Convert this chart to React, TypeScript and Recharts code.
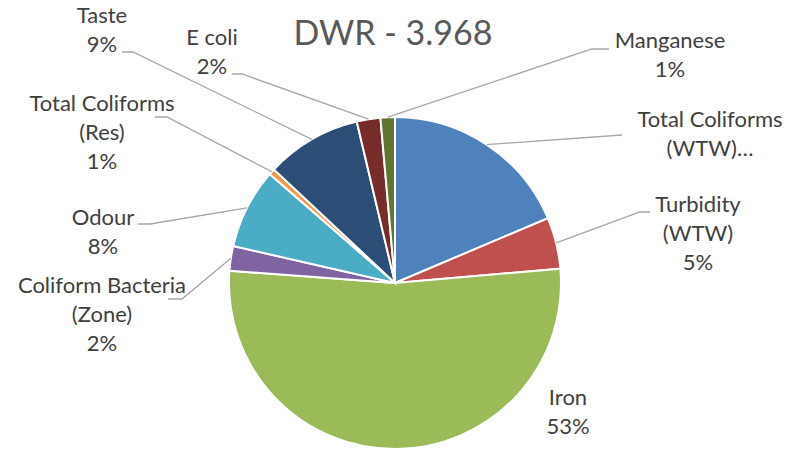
import React from "react";
import { PieChart, Pie, Cell } from "recharts";

const categories = [
  "Total Coliforms (WTW)",
  "Turbidity (WTW)",
  "Iron",
  "Coliform Bacteria (Zone)",
  "Odour",
  "Total Coliforms (Res)",
  "Taste",
  "E coli",
  "Manganese",
];
const values = [18.6, 5.0, 52.5, 2.4, 7.8, 0.6, 9.3, 2.3, 1.4];
const colors = [
  "#4F81BD",
  "#C0504D",
  "#9BBB59",
  "#8064A2",
  "#4BACC6",
  "#F79646",
  "#2C4D75",
  "#772C2A",
  "#5F7530",
];
const title = "DWR - 3.968";

// label text lines (name lines; percent appended unless truncated)
const labelLines: Record<string, { lines: string[]; pct: boolean }> = {
  "Total Coliforms (WTW)": { lines: ["Total Coliforms", "(WTW)…"], pct: false },
  "Turbidity (WTW)": { lines: ["Turbidity", "(WTW)"], pct: true },
  Iron: { lines: ["Iron"], pct: true },
  "Coliform Bacteria (Zone)": { lines: ["Coliform Bacteria", "(Zone)"], pct: true },
  Odour: { lines: ["Odour"], pct: true },
  "Total Coliforms (Res)": { lines: ["Total Coliforms", "(Res)"], pct: true },
  Taste: { lines: ["Taste"], pct: true },
  "E coli": { lines: ["E coli"], pct: true },
  Manganese: { lines: ["Manganese"], pct: true },
};

// label layout: text center x, first baseline y, leader elbow and end
const labelLayout: Record<string, { x: number; y: number; elbow?: [number, number]; end?: [number, number] }> = {
  "Total Coliforms (WTW)": { x: 710, y: 127, elbow: [622, 135], end: [622, 135] },
  "Turbidity (WTW)": { x: 698, y: 212, elbow: [640, 212], end: [650, 212] },
  Iron: { x: 568, y: 405 },
  "Coliform Bacteria (Zone)": { x: 102, y: 293, elbow: [182, 299], end: [168, 299] },
  Odour: { x: 103, y: 225, elbow: [150, 224], end: [138, 224] },
  "Total Coliforms (Res)": { x: 102, y: 111, elbow: [167, 117], end: [155, 117] },
  Taste: { x: 102, y: 23, elbow: [133, 52], end: [122, 52] },
  "E coli": { x: 212, y: 45, elbow: [242, 74], end: [232, 74] },
  Manganese: { x: 670, y: 48, elbow: [592, 49], end: [609, 49] },
};

const data = categories.map((name, i) => ({ name, value: values[i] }));

const FONT = "Lato, 'Open Sans', sans-serif";
const RAD = Math.PI / 180;

const renderLabel = (props: any) => {
  const { cx, cy, midAngle, outerRadius, name, percent } = props;
  const layout = labelLayout[name];
  const txt = labelLines[name];
  if (!layout || !txt) return null;
  const lines = txt.pct ? [...txt.lines, `${Math.round(percent * 100)}%`] : txt.lines;
  const sx = cx + outerRadius * Math.cos(-midAngle * RAD);
  const sy = cy + outerRadius * Math.sin(-midAngle * RAD);
  return (
    <g>
      {layout.elbow && layout.end && (
        <polyline
          points={`${sx},${sy} ${layout.elbow[0]},${layout.elbow[1]} ${layout.end[0]},${layout.end[1]}`}
          fill="none"
          stroke="#A6A6A6"
          strokeWidth={1.3}
        />
      )}
      <text x={layout.x} y={layout.y} textAnchor="middle" fill="#404040" fontFamily={FONT} fontSize={22}>
        {lines.map((l, i) => (
          <tspan key={i} x={layout.x} y={layout.y + i * 29}>
            {l}
          </tspan>
        ))}
      </text>
    </g>
  );
};

export default function App() {
  return (
    <div style={{ position: "absolute", left: 0, top: 0, width: 800, height: 450, background: "#fff" }}>
      <PieChart width={800} height={450} margin={{ top: 0, right: 0, bottom: 0, left: 0 }}>
        <text x={393} y={45} textAnchor="middle" fill="#595959" fontFamily={FONT} fontSize={34}>
          {title}
        </text>
        <Pie
          data={data}
          dataKey="value"
          nameKey="name"
          cx={395}
          cy={283}
          outerRadius={166}
          startAngle={90}
          endAngle={-270}
          stroke="#FFFFFF"
          strokeWidth={2}
          label={renderLabel}
          labelLine={false}
          isAnimationActive={false}
        >
          {data.map((d, i) => (
            <Cell key={d.name} fill={colors[i]} />
          ))}
        </Pie>
      </PieChart>
    </div>
  );
}
